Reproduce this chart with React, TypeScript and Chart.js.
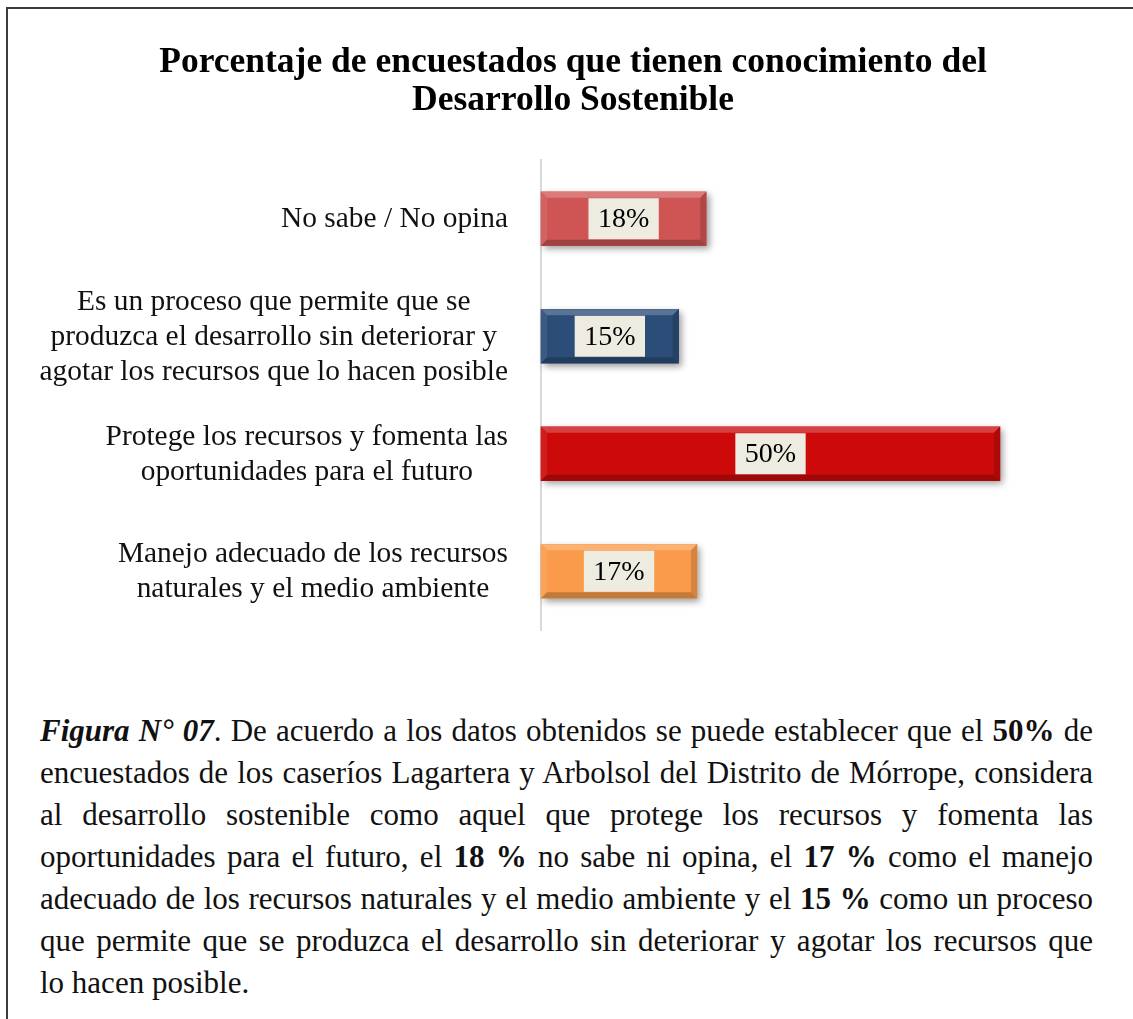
import React, { useEffect, useRef } from "react";
import { Chart, registerables } from "chart.js";

Chart.register(...registerables);

const FONT = "'Liberation Serif', 'Times New Roman', Times, serif";

const titleLines = [
  "Porcentaje de encuestados que tienen conocimiento del",
  "Desarrollo Sostenible",
];

const categories: string[][] = [
  ["No sabe / No opina"],
  [
    "Es un proceso que permite que se",
    "produzca el desarrollo sin deteriorar y",
    "agotar los recursos que lo hacen posible",
  ],
  ["Protege los recursos y fomenta las", "oportunidades para el futuro"],
  ["Manejo adecuado de los recursos", "naturales y el medio ambiente"],
];

const values = [18, 15, 50, 17];

const barColors = ["#CF5454", "#2C4D77", "#CC0A0A", "#F99B4A"];

function shade(hex: string, f: number): string {
  const n = parseInt(hex.slice(1), 16);
  let r = (n >> 16) & 255;
  let g = (n >> 8) & 255;
  let b = n & 255;
  const t = f < 0 ? 0 : 255;
  const p = Math.abs(f);
  r = Math.round(r + (t - r) * p);
  g = Math.round(g + (t - g) * p);
  b = Math.round(b + (t - b) * p);
  return `rgb(${r},${g},${b})`;
}

const decorPlugin = {
  id: "decor",
  beforeDatasetsDraw(chart: any) {
    const c = chart.ctx;
    c.save();
    c.shadowColor = "rgba(0,0,0,0.4)";
    c.shadowBlur = 7;
    c.shadowOffsetX = 3;
    c.shadowOffsetY = 3;
  },
  afterDatasetsDraw(chart: any) {
    const c = chart.ctx;
    c.restore();
    const meta = chart.getDatasetMeta(0);
    const poly = (pts: number[][], color: string) => {
      c.beginPath();
      c.moveTo(pts[0][0], pts[0][1]);
      for (let k = 1; k < pts.length; k++) c.lineTo(pts[k][0], pts[k][1]);
      c.closePath();
      c.fillStyle = color;
      c.fill();
    };
    meta.data.forEach((el: any, i: number) => {
      const p = el.getProps(["x", "y", "base", "height"], true);
      const x0 = Math.min(p.x, p.base);
      const x1 = Math.max(p.x, p.base);
      const y0 = p.y - p.height / 2;
      const y1 = p.y + p.height / 2;
      const b = 6;
      const col = barColors[i];
      c.save();
      poly([[x0, y0], [x1, y0], [x1 - b, y0 + b], [x0 + b, y0 + b]], shade(col, 0.22));
      poly([[x0, y0], [x0 + b, y0 + b], [x0 + b, y1 - b], [x0, y1]], shade(col, 0.08));
      poly([[x1, y0], [x1, y1], [x1 - b, y1 - b], [x1 - b, y0 + b]], shade(col, -0.15));
      poly([[x0, y1], [x0 + b, y1 - b], [x1 - b, y1 - b], [x1, y1]], shade(col, -0.22));

      // data label
      const txt = values[i] + "%";
      c.font = `28px ${FONT}`;
      const tw = c.measureText(txt).width;
      const bw = tw + 19;
      const bh = 41;
      const cx = (x0 + x1) / 2;
      c.fillStyle = "#EEECE1";
      c.fillRect(cx - bw / 2, p.y - bh / 2, bw, bh);
      c.fillStyle = "#000";
      c.textAlign = "center";
      c.textBaseline = "middle";
      c.fillText(txt, cx, p.y + 1);

      // category label
      const lines = categories[i];
      c.font = `29.4px ${FONT}`;
      let maxW = 0;
      lines.forEach((l) => {
        maxW = Math.max(maxW, c.measureText(l).width);
      });
      const right = chart.chartArea.left - 33;
      const lx = right - maxW / 2;
      const lh = 35;
      const sy = p.y - ((lines.length - 1) * lh) / 2;
      c.fillStyle = "#111";
      lines.forEach((l, k) => c.fillText(l, lx, sy + k * lh + 1));
      c.restore();
    });
  },
  afterDraw(chart: any) {
    const c = chart.ctx;
    c.save();
    c.font = `bold 35.5px ${FONT}`;
    c.fillStyle = "#000";
    c.textAlign = "center";
    c.textBaseline = "middle";
    titleLines.forEach((t, k) => c.fillText(t, 565, 55 + k * 38));
    c.restore();
  },
};

export default function App() {
  const ref = useRef<HTMLCanvasElement | null>(null);

  useEffect(() => {
    if (!ref.current) return;
    const chart = new Chart(ref.current, {
      type: "bar",
      data: {
        labels: categories,
        datasets: [
          {
            data: values,
            backgroundColor: barColors,
            borderWidth: 0,
            barThickness: 54,
            clip: false as any,
          },
        ],
      },
      options: {
        responsive: false,
        animation: false,
        indexAxis: "y",
        layout: { padding: { left: 533, right: 125, top: 152, bottom: 78 } },
        plugins: {
          legend: { display: false },
          tooltip: { enabled: false },
          title: { display: false },
        },
        scales: {
          x: { display: false, min: 0, max: 50 },
          y: {
            grid: { display: false, drawTicks: false },
            ticks: { display: false },
            border: { display: true, color: "#D9D9D9", width: 2 },
            afterFit: (s: any) => {
              s.width = 0;
            },
          },
        },
      },
      plugins: [decorPlugin],
    });
    return () => chart.destroy();
  }, []);

  const lineStyle: React.CSSProperties = {
    textAlign: "justify",
    textAlignLast: "justify",
    whiteSpace: "normal",
  };
  const lastStyle: React.CSSProperties = { textAlign: "left" };

  return (
    <div style={{ position: "relative", fontFamily: FONT, color: "#111" }}>
      <div
        style={{
          position: "fixed",
          left: 6,
          top: 7,
          right: 0,
          bottom: 0,
          borderLeft: "2px solid #3c3c3c",
          borderTop: "2px solid #3c3c3c",
          pointerEvents: "none",
        }}
      />
      <canvas ref={ref} width={1117} height={700} style={{ display: "block" }} />
      <div
        style={{
          marginLeft: 32,
          width: 1053,
          fontSize: 31,
          lineHeight: "42px",
          marginTop: 2,
        }}
      >
        <div style={lineStyle}>
          <b><i>Figura N° 07</i></b>. De acuerdo a los datos obtenidos se puede establecer que el <b>50%</b> de
        </div>
        <div style={lineStyle}>
          encuestados de los caseríos Lagartera y Arbolsol del Distrito de Mórrope, considera
        </div>
        <div style={lineStyle}>
          al desarrollo sostenible como aquel que protege los recursos y fomenta las
        </div>
        <div style={lineStyle}>
          oportunidades para el futuro, el <b>18 %</b> no sabe ni opina, el <b>17 %</b> como el manejo
        </div>
        <div style={lineStyle}>
          adecuado de los recursos naturales y el medio ambiente y el <b>15 %</b> como un proceso
        </div>
        <div style={lineStyle}>
          que permite que se produzca el desarrollo sin deteriorar y agotar los recursos que
        </div>
        <div style={lastStyle}>lo hacen posible.</div>
      </div>
    </div>
  );
}
